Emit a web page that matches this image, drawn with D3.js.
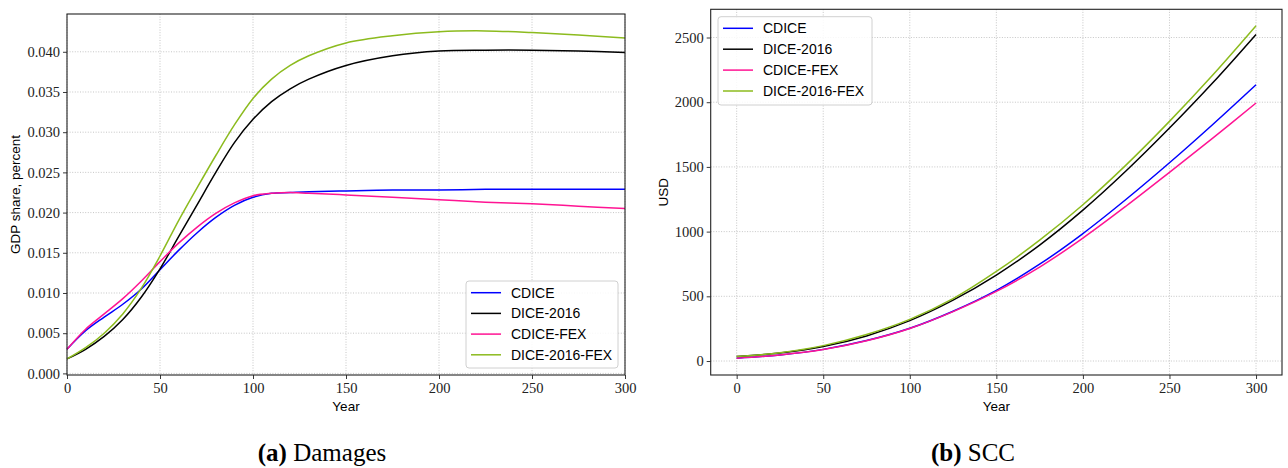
<!DOCTYPE html>
<html><head><meta charset="utf-8">
<script src="https://cdn.jsdelivr.net/npm/d3@7"></script>
<style>body{margin:0;background:#fff} svg{display:block}</style>
</head><body><svg id="c" width="1288" height="468"></svg>
<script>
// ---------- data ----------
const seriesNames = ["CDICE", "DICE-2016", "CDICE-FEX", "DICE-2016-FEX"];
const seriesColors = ["#0000ff", "#000000", "#ff1493", "#8cbb1e"];

// (a) Damages, GDP share
const yearsA = [0,10,20,30,40,50,60,70,80,90,100,110,120,130,150,175,200,225,250,275,300];
const cdiceA      = [0.0030,0.0053,0.0070,0.0086,0.0105,0.0129,0.0153,0.0175,0.0194,0.0209,0.0219,0.0224,0.0225,0.0226,0.0227,0.0228,0.0228,0.0229,0.0229,0.0229,0.0229];
const dice2016A   = [0.0018,0.0030,0.0046,0.0067,0.0095,0.0130,0.0170,0.0210,0.0250,0.0287,0.0316,0.0338,0.0354,0.0366,0.0383,0.0395,0.0401,0.0402,0.0402,0.0401,0.0399];
const cdiceFexA   = [0.0030,0.0055,0.0074,0.0093,0.0115,0.0139,0.0162,0.0182,0.0199,0.0212,0.0221,0.0224,0.0225,0.0224,0.0222,0.0219,0.0216,0.0213,0.0211,0.0208,0.0205];
const dice2016FexA= [0.0018,0.0032,0.0050,0.0074,0.0106,0.0146,0.0190,0.0231,0.0271,0.0309,0.0342,0.0366,0.0383,0.0395,0.0411,0.0420,0.0425,0.0426,0.0424,0.0421,0.0417];
const xTicksA = [0,50,100,150,200,250,300];
const yTicksA = [0,0.005,0.010,0.015,0.020,0.025,0.030,0.035,0.040];

// (b) SCC, USD
const yearsB = [0,25,50,75,100,125,150,175,200,225,250,275,300];
const cdiceB      = [22,47,90,158,253,385,546,748,985,1250,1532,1828,2135];
const dice2016B   = [35,62,112,194,312,470,664,896,1166,1470,1800,2150,2524];
const cdiceFexB   = [22,47,89,157,252,382,538,726,950,1198,1458,1722,1994];
const dice2016FexB= [35,64,119,205,322,482,692,934,1208,1516,1852,2210,2591];
const xTicksB = [0,50,100,150,200,250,300];
const yTicksB = [0,500,1000,1500,2000,2500];

const svg = d3.select("#c");
const SERIF = "'Liberation Serif', 'Times New Roman', serif";
const SANS = "'Liberation Sans', Arial, Helvetica, sans-serif";

function panel(cfg) {
  const x = d3.scaleLinear().domain(cfg.xDom).range([cfg.left, cfg.right]);
  const y = d3.scaleLinear().domain(cfg.yDom).range([cfg.bottom, cfg.top]);
  const g = svg.append("g");

  // grid
  const grid = g.append("g").attr("stroke", "#b8b8b8").attr("stroke-width", 0.8).attr("stroke-dasharray", "1,1.6");
  grid.selectAll("line.gx").data(cfg.xTicks).join("line")
    .attr("x1", d => x(d)).attr("x2", d => x(d)).attr("y1", cfg.top).attr("y2", cfg.bottom);
  grid.selectAll("line.gy").data(cfg.yTicks).join("line")
    .attr("y1", d => y(d)).attr("y2", d => y(d)).attr("x1", cfg.left).attr("x2", cfg.right);

  // lines
  const line = d3.line().x(d => x(d[0])).y(d => y(d[1])).curve(d3.curveCatmullRom.alpha(0.5));
  cfg.series.forEach((s, i) => {
    g.append("path").datum(cfg.years.map((t, j) => [t, s[j]]))
      .attr("fill", "none").attr("stroke", seriesColors[i]).attr("stroke-width", 1.5)
      .attr("d", line);
  });

  // axes
  const ax = g.append("g").attr("transform", `translate(0,${cfg.bottom})`)
    .call(d3.axisBottom(x).tickValues(cfg.xTicks).tickSize(4).tickSizeOuter(0).tickPadding(4).tickFormat(d3.format("d")));
  const ay = g.append("g").attr("transform", `translate(${cfg.left},0)`)
    .call(d3.axisLeft(y).tickValues(cfg.yTicks).tickSize(4).tickSizeOuter(0).tickPadding(3).tickFormat(cfg.yFmt));
  [ax, ay].forEach(a => {
    a.select(".domain").remove();
    a.selectAll("line").attr("stroke", "#222").attr("stroke-width", 0.9);
    a.selectAll("text").attr("font-family", SERIF).attr("font-size", cfg.tickFont).attr("fill", "#222");
  });

  // frame
  g.append("rect").attr("x", cfg.left).attr("y", cfg.top)
    .attr("width", cfg.right - cfg.left).attr("height", cfg.bottom - cfg.top)
    .attr("fill", "none").attr("stroke", "#222").attr("stroke-width", 1.1);

  // axis labels
  g.append("text").attr("x", (cfg.left + cfg.right) / 2).attr("y", 410.5)
    .attr("text-anchor", "middle").attr("font-family", SANS).attr("font-size", 13.5).text("Year");
  g.append("text").attr("transform", `translate(${cfg.yLabelX},${(cfg.top + cfg.bottom) / 2}) rotate(-90)`)
    .attr("text-anchor", "middle").attr("font-family", SANS).attr("font-size", 13.5).text(cfg.yLabel);

  // legend
  const L = cfg.legend;
  g.append("rect").attr("x", L.x).attr("y", L.y).attr("width", L.w).attr("height", L.h)
    .attr("rx", 3).attr("fill", "#fff").attr("fill-opacity", 0.85).attr("stroke", "#d0d0d0").attr("stroke-width", 1);
  seriesNames.forEach((n, i) => {
    const yy = L.y0 + i * L.dy;
    g.append("line").attr("x1", L.x + 5).attr("x2", L.x + 35).attr("y1", yy).attr("y2", yy)
      .attr("stroke", seriesColors[i]).attr("stroke-width", 1.5);
    g.append("text").attr("x", L.x + 45).attr("y", yy + 5).attr("font-family", SANS).attr("font-size", 14)
      .attr("fill", "#000").text(n);
  });

  // caption
  const cap = g.append("text").attr("x", cfg.capX).attr("y", 461).attr("text-anchor", "middle")
    .attr("font-family", SERIF).attr("font-size", 25).attr("fill", "#000");
  cap.append("tspan").attr("font-weight", "bold").text(cfg.capTag);
  cap.append("tspan").text(" " + cfg.capText);
}

panel({
  left: 67, right: 625, top: 14, bottom: 375,
  xDom: [0, 300], yDom: [-0.0002, 0.0447],
  xTicks: xTicksA, yTicks: yTicksA, yFmt: d3.format(".3f"), tickFont: 14.5,
  years: yearsA, series: [cdiceA, dice2016A, cdiceFexA, dice2016FexA],
  yLabel: "GDP share, percent", yLabelX: 19.5,
  legend: { x: 466, y: 281, w: 152, h: 87, y0: 292.7, dy: 20.7 },
  capX: 322, capTag: "(a)", capText: "Damages"
});

panel({
  left: 710.7, right: 1282, top: 9.3, bottom: 375,
  xDom: [-15, 315], yDom: [-108, 2718],
  xTicks: xTicksB, yTicks: yTicksB, yFmt: d3.format("d"), tickFont: 14.5,
  years: yearsB, series: [cdiceB, dice2016B, cdiceFexB, dice2016FexB],
  yLabel: "USD", yLabelX: 668,
  legend: { x: 718, y: 16.7, w: 154, h: 88.3, y0: 28.3, dy: 20.9 },
  capX: 973, capTag: "(b)", capText: "SCC"
});
</script></body></html>
